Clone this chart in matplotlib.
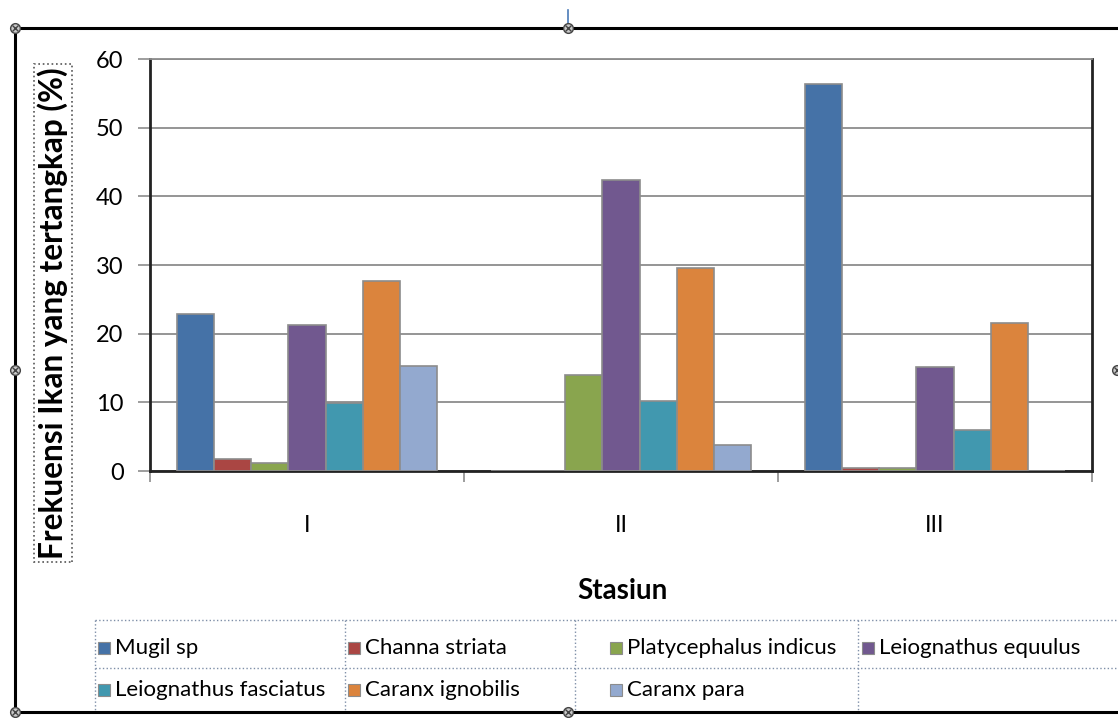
import numpy as np
import matplotlib.pyplot as plt
from matplotlib.patches import Rectangle
from matplotlib.lines import Line2D

plt.rcParams['font.family'] = ['Lato', 'DejaVu Sans']

# data: frequency (%) of each species caught per station
stasiun = ['I', 'II', 'III']
spesies = ['Mugil sp', 'Channa striata', 'Platycephalus indicus', 'Leiognathus equulus',
           'Leiognathus fasciatus', 'Caranx ignobilis', 'Caranx para']
mugil = [22.9, 0.0, 56.4]
channa = [1.7, 0.0, 0.4]
platycephalus = [1.2, 14.0, 0.4]
leio_equulus = [21.3, 42.4, 15.1]
leio_fasciatus = [9.9, 10.2, 6.0]
caranx_ign = [27.7, 29.5, 21.5]
caranx_para = [15.3, 3.8, 0.0]
nilai = [mugil, channa, platycephalus, leio_equulus, leio_fasciatus, caranx_ign, caranx_para]
warna = ['#4572A7', '#AA4643', '#89A54E', '#71588F', '#4198AF', '#DB843D', '#93A9CF']

W, H = 1118, 718
fig = plt.figure(figsize=(W / 100, H / 100), dpi=100)

def fx(px):
    return px / W

def fy(py):
    return 1 - py / H

ax = fig.add_axes([fx(150), fy(471), fx(1092) - fx(150), fy(59) - fy(471)])

x = np.arange(len(stasiun))
lebar = 0.118
for i, (vals, c) in enumerate(zip(nilai, warna)):
    ax.bar(x + (i - 3) * lebar, vals, width=lebar, color=c, edgecolor='#8c8c8c',
           linewidth=1.2, zorder=3)

ax.set_xlim(-0.5, 2.5)
ax.set_ylim(0, 60)
ax.set_yticks(np.arange(0, 61, 10))
ax.yaxis.grid(True, color='#8c8c8c', linewidth=1.3, zorder=0)
ax.set_xticks(x)
ax.set_xticklabels(stasiun, fontsize=16.5)
ax.set_xticks([-0.5, 0.5, 1.5, 2.5], minor=True)
ax.tick_params(axis='x', which='major', length=0, pad=32)
ax.tick_params(axis='x', which='minor', length=8, width=1.2, color='#8c8c8c', direction='out')
ax.tick_params(axis='y', length=9, width=1.2, color='#8c8c8c', labelsize=17, pad=10)
for s in ['left', 'bottom', 'right']:
    ax.spines[s].set_color('#222222')
    ax.spines[s].set_linewidth(2)
ax.spines['top'].set_color('#8c8c8c')
ax.spines['top'].set_linewidth(1.3)

# axis titles
fig.text(fx(622), fy(591), 'Stasiun', fontsize=20, fontweight='bold', ha='center', va='center')
fig.text(fx(53), fy(313), 'Frekuensi Ikan yang tertangkap (%)', fontsize=22.8, fontweight='bold',
         rotation=90, ha='center', va='center',
         bbox=dict(boxstyle='square,pad=0.1', fc='none', ec='#555555', ls=':', lw=1.2))

# legend laid out as a dotted table
kolom = [95, 345, 575, 858]
baris = [648, 690]
for k, (nama, c) in enumerate(zip(spesies, warna)):
    r, col = divmod(k, 4)
    x0 = kolom[col] + (3 if col < 2 else 35 if col == 2 else 4)
    y0 = baris[r]
    fig.patches.append(Rectangle((fx(x0), fy(y0 + 6)), fx(12), fy(0) - fy(12),
                                 transform=fig.transFigure, fc=c, ec='#8c8c8c', lw=0.8))
    fig.text(fx(x0 + 17), fy(y0), nama, fontsize=16, va='center', ha='left')

garis_tabel = dict(color='#7f8fa8', lw=1, ls=':', transform=fig.transFigure)
for yy in [620, 668]:
    fig.add_artist(Line2D([fx(95), 1], [fy(yy), fy(yy)], **garis_tabel))
for xx in kolom:
    fig.add_artist(Line2D([fx(xx), fx(xx)], [fy(620), fy(712)], **garis_tabel))

# outer chart frame with selection handles
bingkai = dict(color='black', lw=2.2, transform=fig.transFigure)
fig.add_artist(Line2D([fx(15), 1], [fy(28), fy(28)], **bingkai))
fig.add_artist(Line2D([fx(15), fx(15)], [fy(28), fy(712)], **bingkai))
fig.add_artist(Line2D([fx(15), 1], [fy(712), fy(712)], **bingkai))
fig.add_artist(Line2D([fx(568), fx(568)], [fy(10), fy(28)], color='#4a7ab8', lw=1.2,
                      transform=fig.transFigure))
for hx, hy in [(15, 28), (568, 28), (15, 370), (568, 712), (15, 712), (1117, 370)]:
    fig.add_artist(Line2D([fx(hx)], [fy(hy)], marker='o', ms=7, mfc='#c8c8c8', mec='#444444',
                          mew=1, transform=fig.transFigure))
    fig.add_artist(Line2D([fx(hx)], [fy(hy)], marker='x', ms=4, mec='#444444', mew=1,
                          transform=fig.transFigure))

fig.savefig('out.png', dpi=100)
